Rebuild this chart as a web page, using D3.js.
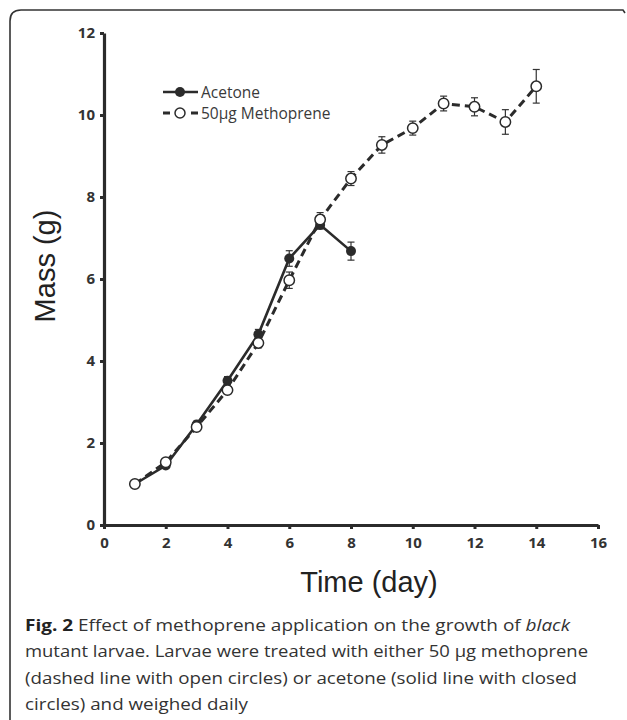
<!DOCTYPE html>
<html>
<head>
<meta charset="utf-8">
<script src="https://cdn.jsdelivr.net/npm/d3@7"></script>
<style>
  body { margin: 0; background: #fff; }
  svg { display: block; }
  .tick text { font-family: "Open Sans", sans-serif; font-weight: 700; font-size: 15px; fill: #333; }
</style>
</head>
<body>
<div id="chart"></div>
<script>
// data
const days = [1, 2, 3, 4, 5, 6, 7, 8, 9, 10, 11, 12, 13, 14]
const acetone = [1.0, 1.45, 2.45, 3.52, 4.65, 6.5, 7.32, 6.68]
const acetoneErr = [0.05, 0.07, 0.08, 0.1, 0.12, 0.19, 0.1, 0.22]
const methoprene = [1.0, 1.53, 2.39, 3.29, 4.44, 5.97, 7.45, 8.45, 9.27, 9.68, 10.28, 10.2, 9.83, 10.7]
const methopreneErr = [0.05, 0.06, 0.07, 0.08, 0.12, 0.2, 0.17, 0.17, 0.2, 0.17, 0.18, 0.22, 0.3, 0.41]
const xTicks = [0, 2, 4, 6, 8, 10, 12, 14, 16]
const yTicks = [0, 2, 4, 6, 8, 10, 12]
const legendLabels = ["Acetone", "50µg Methoprene"]

const W = 627, H = 720
const ink = "#2b2b2b"

const svg = d3.select("#chart").append("svg")
  .attr("width", W)
  .attr("height", H)

// open frame: top + left with rounded corner
svg.append("path")
  .attr("d", "M10,722 L10,21 Q10,10 21,10 L623,10 L625,13")
  .attr("fill", "none")
  .attr("stroke", "#333")
  .attr("stroke-width", 1.6)

const x = d3.scaleLinear().domain([0, 16]).range([104, 598])
const y = d3.scaleLinear().domain([0, 12]).range([525, 33])

// axes
const xAxis = svg.append("g")
  .attr("transform", "translate(0," + y(0) + ")")
  .call(d3.axisBottom(x).tickValues(xTicks).tickSize(4).tickPadding(8).tickSizeOuter(0))
const yAxis = svg.append("g")
  .attr("transform", "translate(" + x(0) + ",0)")
  .call(d3.axisLeft(y).tickValues(yTicks).tickSize(4).tickPadding(5).tickSizeOuter(0))

;[xAxis, yAxis].forEach(a => {
  a.select(".domain").attr("stroke", ink).attr("stroke-width", 3.2)
  a.selectAll(".tick line").attr("stroke", ink).attr("stroke-width", 3)
})

// axis titles
svg.append("text")
  .attr("x", 369)
  .attr("y", 592)
  .attr("text-anchor", "middle")
  .attr("font-family", "Liberation Sans, Arial, sans-serif")
  .attr("font-size", 29)
  .attr("fill", "#222")
  .text("Time (day)")

svg.append("text")
  .attr("transform", "translate(55,266) rotate(-90)")
  .attr("text-anchor", "middle")
  .attr("font-family", "Liberation Sans, Arial, sans-serif")
  .attr("font-size", 29)
  .attr("fill", "#222")
  .text("Mass (g)")

const acetoneData = acetone.map((v, i) => ({day: days[i], v, e: acetoneErr[i]}))
const methopreneData = methoprene.map((v, i) => ({day: days[i], v, e: methopreneErr[i]}))

const line = d3.line().x(d => x(d.day)).y(d => y(d.v))

const addErrorBars = (data) => {
  const g = svg.append("g")
    .attr("stroke", "#333")
    .attr("stroke-width", 1.2)
  const bars = g.selectAll("g").data(data).enter().append("g")
  bars.append("line")
    .attr("x1", d => x(d.day)).attr("x2", d => x(d.day))
    .attr("y1", d => y(d.v - d.e)).attr("y2", d => y(d.v + d.e))
  bars.append("line")
    .attr("x1", d => x(d.day) - 3.5).attr("x2", d => x(d.day) + 3.5)
    .attr("y1", d => y(d.v + d.e)).attr("y2", d => y(d.v + d.e))
  bars.append("line")
    .attr("x1", d => x(d.day) - 3.5).attr("x2", d => x(d.day) + 3.5)
    .attr("y1", d => y(d.v - d.e)).attr("y2", d => y(d.v - d.e))
}

addErrorBars(acetoneData)
addErrorBars(methopreneData)

// acetone: solid line, closed circles
svg.append("path")
  .datum(acetoneData)
  .attr("d", line)
  .attr("fill", "none")
  .attr("stroke", ink)
  .attr("stroke-width", 2.6)

svg.append("g")
  .selectAll("circle")
  .data(acetoneData)
  .enter().append("circle")
  .attr("cx", d => x(d.day))
  .attr("cy", d => y(d.v))
  .attr("r", 5)
  .attr("fill", ink)

// methoprene: dashed line, open circles
svg.append("path")
  .datum(methopreneData)
  .attr("d", line)
  .attr("fill", "none")
  .attr("stroke", ink)
  .attr("stroke-width", 3)
  .attr("stroke-dasharray", "8,5")

svg.append("g")
  .selectAll("circle")
  .data(methopreneData)
  .enter().append("circle")
  .attr("cx", d => x(d.day))
  .attr("cy", d => y(d.v))
  .attr("r", 5.2)
  .attr("fill", "#fff")
  .attr("stroke", ink)
  .attr("stroke-width", 1.5)

// legend
const legend = svg.selectAll(".legend")
  .data(legendLabels)
  .enter().append("g")
  .attr("class", "legend")
  .attr("transform", (d, i) => "translate(0," + (92 + i * 21) + ")")

legend.append("line")
  .attr("x1", 163).attr("x2", 198)
  .attr("stroke", ink)
  .attr("stroke-width", (d, i) => i ? 3 : 2.6)
  .attr("stroke-dasharray", (d, i) => i ? "7,21,7" : null)

legend.append("circle")
  .attr("cx", 180)
  .attr("r", 5)
  .attr("fill", (d, i) => i ? "#fff" : ink)
  .attr("stroke", ink)
  .attr("stroke-width", (d, i) => i ? 1.5 : 0)

legend.append("text")
  .attr("x", 201)
  .attr("dy", "0.36em")
  .attr("font-family", "Open Sans, sans-serif")
  .attr("font-size", 15.5)
  .attr("fill", "#3a3a3a")
  .text(d => d)

// caption
const captionLines = [
  [["Fig. 2", "b"], [" Effect of methoprene application on the growth of ", ""], ["black", "i"]],
  [["mutant larvae. Larvae were treated with either 50 µg methoprene", ""]],
  [["(dashed line with open circles) or acetone (solid line with closed", ""]],
  [["circles) and weighed daily", ""]]
]
const captionWidths = [545, 563, 552, 223]

const caption = svg.append("g")
  .attr("font-family", "Open Sans, sans-serif")
  .attr("font-size", 16.5)
  .attr("fill", "#333")

captionLines.forEach((parts, i) => {
  const t = caption.append("text")
    .attr("x", 25)
    .attr("y", 631 + i * 26.3)
    .attr("textLength", captionWidths[i])
    .attr("lengthAdjust", "spacingAndGlyphs")
  parts.forEach(p => {
    t.append("tspan")
      .attr("font-weight", p[1] === "b" ? 700 : 400)
      .attr("font-style", p[1] === "i" ? "italic" : "normal")
      .attr("fill", p[1] === "b" ? "#222" : "#333")
      .text(p[0])
  })
})
</script>
</body>
</html>
